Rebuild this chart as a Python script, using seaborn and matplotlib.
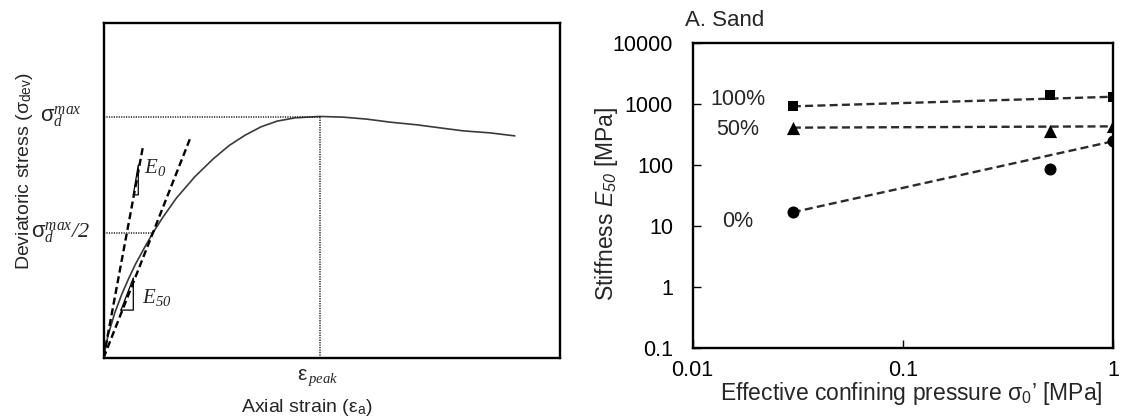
import numpy as np
import pandas as pd
import matplotlib
matplotlib.use("Agg")
import matplotlib.pyplot as plt
import matplotlib.transforms as mtransforms
import seaborn as sns

# ---------------- data: left schematic (normalised strain / stress) -------------
strain = [0.0, 0.010, 0.025, 0.040, 0.055, 0.070, 0.090, 0.108, 0.130, 0.160,
          0.200, 0.240, 0.275, 0.310, 0.345, 0.380, 0.420, 0.474, 0.525,
          0.577, 0.628, 0.687, 0.737, 0.788, 0.847, 0.901]
stress = [0.0, 0.068, 0.136, 0.190, 0.237, 0.280, 0.330, 0.373, 0.420, 0.478,
          0.541, 0.594, 0.634, 0.665, 0.690, 0.707, 0.717, 0.721, 0.719,
          0.713, 0.704, 0.696, 0.687, 0.678, 0.672, 0.663]
peak_strain = 0.474
peak_stress = 0.720
half_strain = 0.108
half_stress = 0.373
e0_slope = 7.30          # initial tangent modulus (schematic units)
e0_extent = 0.0872       # strain where the E0 tangent line ends
e50_extent = 0.1917      # strain where the E50 secant line ends

# ---------------- data: right panel (A. Sand) ----------------------------------
pressure = [0.03, 0.5, 1.0]                 # effective confining pressure [MPa]
e50_100 = [905, 1380, 1300]                  # stiffness E50 [MPa], 100%
e50_50 = [405, 355, 425]                     # 50%
e50_0 = [16.6, 85, 242]                      # 0%
series_labels = ["100%", "50%", "0%"]
y_ticks = [0.1, 1, 10, 100, 1000, 10000]
y_ticklabels = ["0.1", "1", "10", "100", "1000", "10000"]
x_ticks = [0.01, 0.1, 1]
x_ticklabels = ["0.01", "0.1", "1"]

# ---------------- style ---------------------------------------------------------
sns.set_theme(style="white")
plt.rcParams["font.family"] = ["Liberation Sans", "DejaVu Sans"]
plt.rcParams["mathtext.fontset"] = "custom"
plt.rcParams["mathtext.rm"] = "Liberation Sans"
plt.rcParams["mathtext.it"] = "Liberation Serif:italic"
plt.rcParams["mathtext.cal"] = "Liberation Serif:italic"
plt.rcParams["mathtext.sf"] = "Liberation Sans:italic"
plt.rcParams["mathtext.bf"] = "Liberation Sans:bold"

W, H = 1121, 419
fig = plt.figure(figsize=(W / 100, H / 100), dpi=100)


def box(x0, y0, x1, y1):
    return [x0 / W, 1 - y1 / H, (x1 - x0) / W, (y1 - y0) / H]


# ================= left panel ==================================================
axL = fig.add_axes(box(103.5, 23, 560, 358))
curve = pd.DataFrame({"strain": strain, "stress": stress})
sns.lineplot(data=curve, x="strain", y="stress", ax=axL, color="#3a3a3a",
             linewidth=1.2, sort=False, estimator=None)

# tangent lines E0 and E50
e50_slope = half_stress / half_strain
sx0 = np.array([0.0, e0_extent])
sx50 = np.array([0.0, e50_extent])
sns.lineplot(x=sx0, y=e0_slope * sx0, ax=axL, color="black", linewidth=1.7,
             linestyle=(0, (3.0, 1.6)))
sns.lineplot(x=sx50, y=e50_slope * sx50, ax=axL, color="black", linewidth=1.7,
             linestyle=(0, (3.0, 1.6)))

# dotted guide lines
dot = dict(color="#222222", linewidth=1.1, linestyle=(0, (0.8, 0.8)))
axL.plot([0, peak_strain], [peak_stress, peak_stress], **dot)
axL.plot([peak_strain, peak_strain], [0, peak_stress], **dot)
axL.plot([0, half_strain], [half_stress, half_stress], **dot)

# slope triangles
tri = dict(color="black", linewidth=0.9)
axL.plot([0.0653, 0.0762, 0.0762, 0.0653], [0.487, 0.576, 0.487, 0.487], **tri)
axL.plot([0.0383, 0.0653, 0.0653, 0.0383], [0.143, 0.239, 0.143, 0.143], **tri)
axL.text(0.0894, 0.57, r"$\mathit{E}_{\mathcal{0}}$", fontsize=15, va="center", ha="left")
axL.text(0.0837, 0.18, r"$\mathit{E}_{\mathcal{50}}$", fontsize=15, va="center", ha="left")

axL.set_xlim(0, 1)
axL.set_ylim(0, 1)
axL.set_xticks([])
axL.set_yticks([])
axL.set_xlabel("")
axL.set_ylabel("")
for sp in axL.spines.values():
    sp.set_visible(True)
    sp.set_color("black")
    sp.set_linewidth(1.7)

trY = mtransforms.blended_transform_factory(fig.transFigure, axL.transData)
axL.text(61 / W, peak_stress, r"$\mathrm{\sigma}_{d}^{max}$", transform=trY,
         ha="center", va="center", fontsize=16)
axL.text(61 / W, half_stress, r"$\mathrm{\sigma}_{d}^{max}\mathcal{/2}$", transform=trY,
         ha="center", va="center", fontsize=16)
trX = mtransforms.blended_transform_factory(axL.transData, fig.transFigure)
axL.text(peak_strain - 0.05, 1 - 378 / H, r"$\mathrm{\varepsilon}_{\,peak}$",
         transform=trX, ha="left", va="center", fontsize=15)

fig.text(25 / W, 1 - 171 / H, r"Deviatoric stress ($\mathrm{\sigma}_{\mathrm{dev}}$)",
         rotation=90, ha="center", va="center", fontsize=14)
fig.text(307 / W, 1 - 407 / H, r"Axial strain ($\mathrm{\varepsilon}_{\mathrm{a}}$)",
         ha="center", va="center", fontsize=14)

# ================= right panel =================================================
axR = fig.add_axes(box(692.5, 42.7, 1113, 347.7))
df = pd.DataFrame({
    "pressure": pressure * 3,
    "E50": e50_100 + e50_50 + e50_0,
    "content": [series_labels[0]] * 3 + [series_labels[1]] * 3 + [series_labels[2]] * 3,
})
axR.set_xscale("log")
axR.set_yscale("log")

for lab, vals in zip(series_labels, [e50_100, e50_50, e50_0]):
    sns.lineplot(x=[pressure[0], pressure[-1]], y=[vals[0], vals[-1]], ax=axR,
                 color="#2b2b2b", linewidth=1.7, linestyle=(0, (3.4, 1.8)))

marker_map = {"100%": "s", "50%": "^", "0%": "o"}
size_map = {"100%": 55, "50%": 90, "0%": 75}
for lab in series_labels:
    sub = df[df["content"] == lab]
    sns.scatterplot(data=sub, x="pressure", y="E50", ax=axR, marker=marker_map[lab],
                    s=size_map[lab], color="black", linewidth=0, zorder=5)

# series labels
axR.text(0.0164, 1165, "100%", ha="center", va="center", fontsize=15.5)
axR.text(0.0164, 375, "50%", ha="center", va="center", fontsize=15.5)
axR.text(0.0164, 11.6, "0%", ha="center", va="center", fontsize=15.5)

axR.set_xlim(0.01, 1)
axR.set_ylim(0.1, 10000)
axR.set_xticks(x_ticks)
axR.set_xticklabels(x_ticklabels)
axR.set_yticks(y_ticks)
axR.set_yticklabels(y_ticklabels)
axR.minorticks_off()
axR.tick_params(axis="both", which="major", direction="in", length=6, width=1.0,
                colors="black", labelsize=15.5)
axR.tick_params(axis="y", pad=14, left=True)
axR.tick_params(axis="x", pad=9, bottom=True)
axR.set_xlabel("")
axR.set_ylabel("")
for sp in axR.spines.values():
    sp.set_visible(True)
    sp.set_color("black")
    sp.set_linewidth(1.7)

fig.text(685 / W, 1 - 20 / H, "A. Sand", ha="left", va="center", fontsize=16)
fig.text(607 / W, 1 - 204 / H, r"Stiffness $\mathsf{E}_{\mathsf{50}}$ [MPa]",
         rotation=90, ha="center", va="center", fontsize=16.5)
fig.text(911 / W, 1 - 393 / H,
         r"Effective confining pressure $\mathrm{\sigma}_{\mathrm{0}}$’ [MPa]",
         ha="center", va="center", fontsize=16.5)

fig.savefig("out.png", dpi=100, facecolor="white")
